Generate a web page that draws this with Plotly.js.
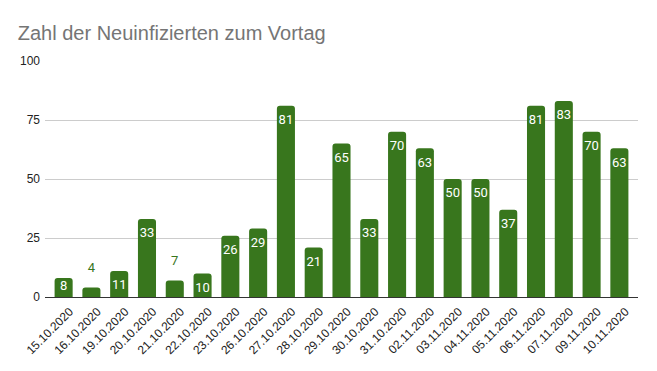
<!DOCTYPE html>
<html><head><meta charset="utf-8">
<script src="https://cdn.plot.ly/plotly-3.0.1.min.js"></script>
<style>html,body{margin:0;padding:0;background:#fff}#c{width:657px;height:371px}</style>
</head><body><div id="c"></div>
<script>
const dates = ["15.10.2020","16.10.2020","19.10.2020","20.10.2020","21.10.2020","22.10.2020","23.10.2020","26.10.2020","27.10.2020","28.10.2020","29.10.2020","30.10.2020","31.10.2020","02.11.2020","03.11.2020","04.11.2020","05.11.2020","06.11.2020","07.11.2020","09.11.2020","10.11.2020"];
const values = [8,4,11,33,7,10,26,29,81,21,65,33,70,63,50,50,37,81,83,70,63];
const yTicks = [0,25,50,75,100];
const green = "#38761d";
const isOutside = values.map(v => v < 8);
Plotly.newPlot("c", [{
  type: "bar", x: dates, y: values,
  marker: {color: green},
  width: 0.65,
  hoverinfo: "none"
}, {
  type: "scatter", mode: "text+markers", x: dates, y: values,
  text: values.map(String),
  textposition: isOutside.map(o => o ? "top center" : "bottom center"),
  marker: {size: values.map((v, i) => isOutside[i] ? 18 : (v < 10 ? 2 : 12)), opacity: 0, color: green},
  textfont: {family: "Roboto, sans-serif", size: 13, color: isOutside.map(o => o ? green : "#ffffff")},
  cliponaxis: false,
  hoverinfo: "none"
}], {
  width: 657, height: 371,
  margin: {l: 45, r: 19, t: 61, b: 74},
  paper_bgcolor: "#fff", plot_bgcolor: "#fff",
  barcornerradius: 3,
  title: {text: "Zahl der Neuinfizierten zum Vortag", x: 0.027, xanchor: "left", y: 0.91, yanchor: "middle",
    font: {family: "Liberation Sans, Arial, sans-serif", size: 20, color: "#757575"}},
  xaxis: {type: "category", range: [-0.67, 20.67], tickangle: -45, showgrid: false,
    showline: true, linecolor: "#333", linewidth: 1, ticks: "", ticklabelshift: 6, ticklabelstandoff: 2,
    tickfont: {family: "Liberation Sans, Arial, sans-serif", size: 12, color: "#222"}},
  yaxis: {range: [0, 100], tickvals: yTicks, ticktext: yTicks.map(String), showgrid: true, gridcolor: "#cccccc",
    zeroline: true, zerolinecolor: "#333", zerolinewidth: 1, ticks: "", ticklen: 0, ticklabelstandoff: 4,
    tickfont: {family: "Liberation Sans, Arial, sans-serif", size: 12, color: "#222"}},
  showlegend: false
}, {displayModeBar: false, staticPlot: true});
</script></body></html>
